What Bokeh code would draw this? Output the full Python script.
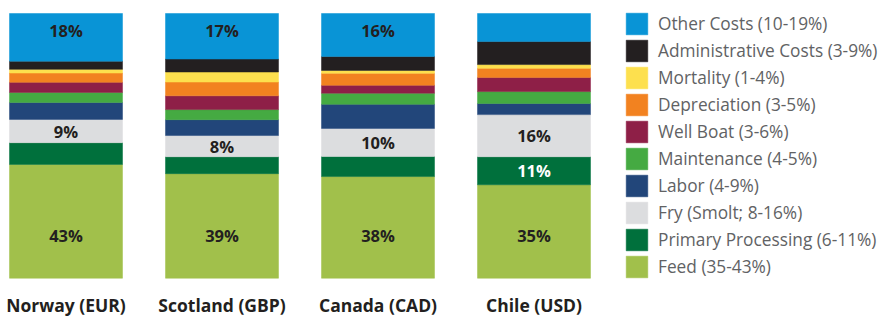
from bokeh.plotting import figure
from bokeh.models import ColumnDataSource, Legend, LegendItem, Range1d
from bokeh.embed import file_html
from bokeh.resources import INLINE
from bokeh.core.properties import value

countries = ["Norway (EUR)", "Scotland (GBP)", "Canada (CAD)", "Chile (USD)"]
series = ["feed", "primary", "fry", "labor", "maintenance", "well_boat",
          "depreciation", "mortality", "admin", "other"]
legend_labels = ["Feed (35-43%)", "Primary Processing (6-11%)", "Fry (Smolt; 8-16%)",
                 "Labor (4-9%)", "Maintenance (4-5%)", "Well Boat (3-6%)",
                 "Depreciation (3-5%)", "Mortality (1-4%)",
                 "Administrative Costs (3-9%)", "Other Costs (10-19%)"]
colors = ["#a1c04b", "#00703c", "#dcdddf", "#22467a", "#45aa42", "#8e1f47",
          "#f28220", "#fde04e", "#231f20", "#0994d6"]

feed = [43.0, 39.5, 38.4, 35.3]
primary = [8.2, 6.4, 7.6, 10.6]
fry = [8.8, 8.0, 10.6, 15.9]
labor = [6.4, 6.0, 9.1, 4.2]
maintenance = [3.8, 3.8, 4.2, 4.5]
well_boat = [3.8, 5.2, 3.0, 5.3]
depreciation = [3.5, 5.2, 4.5, 3.5]
mortality = [1.4, 3.8, 1.1, 1.4]
admin = [3.1, 4.9, 5.3, 8.7]
other = [18.0, 17.2, 16.2, 10.6]

feed_labels = ["43%", "39%", "38%", "35%"]
primary_labels = ["", "", "", "11%"]
fry_labels = ["9%", "8%", "10%", "16%"]
other_labels = ["18%", "17%", "16%", ""]

xs = list(range(len(countries)))
src = ColumnDataSource(dict(x=xs, feed=feed, primary=primary, fry=fry, labor=labor,
                            maintenance=maintenance, well_boat=well_boat,
                            depreciation=depreciation, mortality=mortality,
                            admin=admin, other=other))

W, H = 885, 318
step = 156.0
x0 = -65.5 / step
p = figure(width=W, height=H, output_backend="svg", toolbar_location=None,
           x_range=Range1d(x0, x0 + W / step), y_range=Range1d(-15.22, 104.91),
           min_border=0, outline_line_color=None, background_fill_color="white",
           border_fill_color="white")
p.axis.visible = False
p.grid.visible = False

renderers = p.vbar_stack(series, x="x", width=113 / step, source=src,
                         fill_color=colors, line_color=colors, line_width=0.5)

bold = value("Open Sans")
# segment labels
lab_x, lab_y, lab_t, lab_c = [], [], [], []
for i in xs:
    for t, y, c in [(feed_labels[i], 16.1, "#231f20"),
                    (primary_labels[i], feed[i] + primary[i] / 2, "#ffffff"),
                    (fry_labels[i], feed[i] + primary[i] + fry[i] / 2, "#231f20"),
                    (other_labels[i], 100 - 6.4, "#231f20")]:
        if t:
            lab_x.append(i); lab_y.append(y); lab_t.append(t); lab_c.append(c)
p.text(x=lab_x, y=lab_y, text=lab_t, text_color=lab_c, text_font=bold,
       text_font_style="bold", text_font_size="16.5px", text_align="center",
       text_baseline="middle")

# category labels
p.text(x=xs, y=[-10.2] * len(xs), text=countries, text_color="#231f20",
       text_font=bold, text_font_style="bold", text_font_size="17.5px",
       text_align="center", text_baseline="middle")

items = [LegendItem(label=lbl, renderers=[r]) for lbl, r in zip(legend_labels, renderers)]
items.reverse()
legend = Legend(items=items, location=(623, 38), glyph_width=27, glyph_height=27,
                label_height=27, spacing=0, padding=0, margin=0, label_standoff=8,
                label_text_font="Open Sans", label_text_font_size="17.3px",
                label_text_color="#616264", border_line_color=None,
                background_fill_alpha=0)
p.add_layout(legend)

open("out.html", "w").write(file_html(p, INLINE))
